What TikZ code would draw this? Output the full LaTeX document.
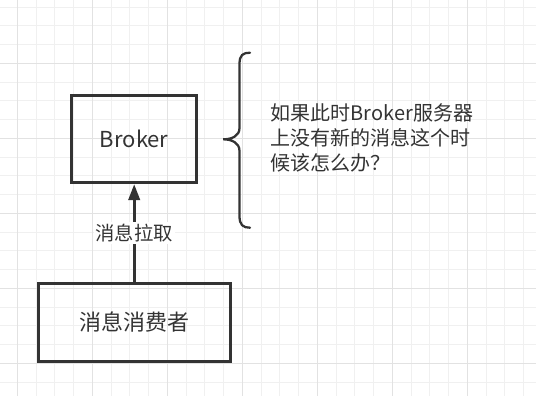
\documentclass[tikz,border=0pt]{standalone}
\usepackage{fontspec}
\setmainfont{Noto Sans CJK SC}
\usetikzlibrary{arrows.meta}
\definecolor{ink}{HTML}{333333}
\definecolor{gridminor}{HTML}{F0F0F0}
\definecolor{gridmajor}{HTML}{E2E2E2}

\begin{document}
\begin{tikzpicture}[>=Stealth, x=0.75pt, y=-0.75pt,
    box/.style={draw=ink, line width=2.25pt, text=ink, font=\fontsize{16.5}{20}\selectfont},
    lbl/.style={fill=white, text=ink, font=\fontsize{14.5}{18}\selectfont, inner sep=1.5pt}]
    \useasboundingbox (0,0) rectangle (536,396);
    % 网格
    \foreach \i in {0,...,27} {
        \draw[gridminor, line width=0.75pt] ({17.3+18.75*\i},0) -- ({17.3+18.75*\i},396);
    }
    \foreach \i in {0,...,20} {
        \draw[gridminor, line width=0.75pt] (0,{7.05+18.75*\i}) -- (536,{7.05+18.75*\i});
    }
    \foreach \i in {0,...,6} {
        \draw[gridmajor, line width=0.75pt] ({17.3+75*\i},0) -- ({17.3+75*\i},396);
    }
    \foreach \i in {0,...,4} {
        \draw[gridmajor, line width=0.75pt] (0,{63.3+75*\i}) -- (536,{63.3+75*\i});
    }
    % 节点
    \node[box, minimum width=93.75pt, minimum height=65pt] (broker) at (134.2,139.3) {Broker};
    \node[box, minimum width=144pt, minimum height=58.8pt] (consumer) at (134.2,322.5) {消息消费者};
    \node[text=ink, align=left, anchor=west, inner sep=0pt,
          font=\fontsize{15}{18.75}\selectfont] (question) at (270.5,138) {如果此时Broker服务器\\上没有新的消息这个时\\候该怎么办？};
    % 箭头
    \draw[-{Triangle[length=12pt,width=8.5pt]}, ink, line width=2.25pt] (consumer.north) -- (broker.south)
        node[midway, lbl] {消息拉取};
    % 大括号
    \draw[ink, line width=1.7pt, line cap=round] (250,52.7) .. controls (243,52.7) and (239.5,55) .. (239.5,64)
        -- (239.5,128) .. controls (239.5,136) and (232,139.3) .. (223.3,139.3)
        .. controls (232,139.3) and (239.5,143) .. (239.5,151)
        -- (239.5,216) .. controls (239.5,225) and (243,227.7) .. (250,227.7);
\end{tikzpicture}
\end{document}
